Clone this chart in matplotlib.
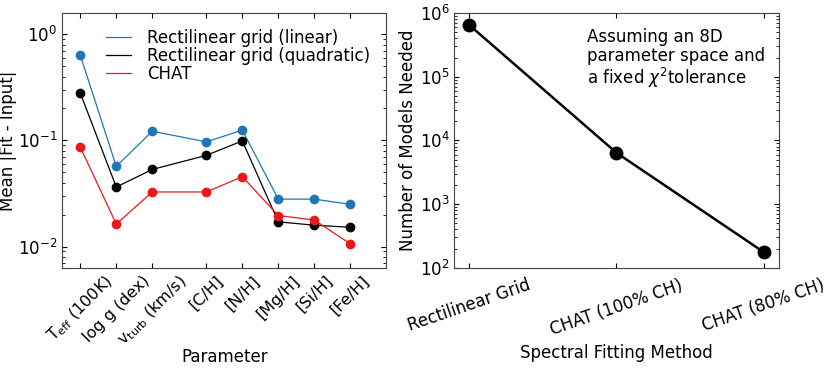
"""Fit accuracy per parameter and model budget per fitting method."""
import numpy as np
import matplotlib
matplotlib.use("Agg")
import matplotlib.pyplot as plt

plt.rcParams["font.size"] = 12
plt.rcParams["xtick.direction"] = "in"
plt.rcParams["ytick.direction"] = "in"
plt.rcParams["xtick.top"] = True
plt.rcParams["ytick.right"] = True
plt.rcParams["axes.edgecolor"] = "#444444"

params = [r"T$_{\rm eff}$ (100K)", "log g (dex)", r"v$_{\rm turb}$ (km/s)",
          "[C/H]", "[N/H]", "[Mg/H]", "[Si/H]", "[Fe/H]"]
xpos = [0, 1, 2, 3.5, 4.5, 5.5, 6.5, 7.5]
lin = [0.635, 0.057, 0.122, 0.097, 0.125, 0.028, 0.028, 0.025]
quad = [0.28, 0.0364, 0.0533, 0.0723, 0.099, 0.0171, 0.0159, 0.0152]
chat = [0.0865, 0.0163, 0.0327, 0.0327, 0.0455, 0.0196, 0.0178, 0.0106]

methods = ["Rectilinear Grid", "CHAT (100% CH)", "CHAT (80% CH)"]
nmodels = [6.5e5, 6.4e3, 176]

fig, (ax1, ax2) = plt.subplots(1, 2, figsize=(8.3, 3.73), dpi=100)
fig.subplots_adjust(left=0.075, right=0.938, top=0.965, bottom=0.282, wspace=0.21)

series = [(lin, "#1f77b4", "Rectilinear grid (linear)"),
          (quad, "black", "Rectilinear grid (quadratic)"),
          (chat, "#e8191c", "CHAT")]
for vals, c, lab in series:
    ax1.plot(xpos, vals, "-", color=c, lw=0.9, label=lab)
    ax1.plot(xpos, vals, "o", color=c, ms=6, mec=c)
ax1.set_yscale("log")
ax1.set_ylim(10**-2.2, 10**0.2)
ax1.set_xlim(-0.5, 8.5)
ax1.set_xticks(xpos)
ax1.set_xticklabels(params, rotation=45, ha="center", fontsize=11.5)
ax1.set_xlabel("Parameter", labelpad=-1)
ax1.set_ylabel("Mean |Fit - Input|", labelpad=1)
ax1.legend(loc="upper right", frameon=False, handlelength=1.5,
           handletextpad=1.0, borderaxespad=0.55, labelspacing=0.0)

ax2.plot(range(len(methods)), nmodels, "-o", color="black", lw=1.8, ms=9)
ax2.set_yscale("log")
ax2.set_ylim(1e2, 1e6)
ax2.set_xlim(-0.1, 2.1)
ax2.set_xticks(range(len(methods)))
ax2.set_xticklabels(methods, rotation=19, ha="center")
ax2.tick_params(axis="x", pad=6)
ax2.set_xlabel("Spectral Fitting Method", labelpad=4)
ax2.set_ylabel("Number of Models Needed", labelpad=2)
ax2.text(0.41, 0.94, "Assuming an 8D\nparameter space and\na fixed $\\chi^2$tolerance",
         transform=ax2.transAxes, va="top", ha="left", linespacing=1.05)

fig.savefig("out.png", dpi=100)
